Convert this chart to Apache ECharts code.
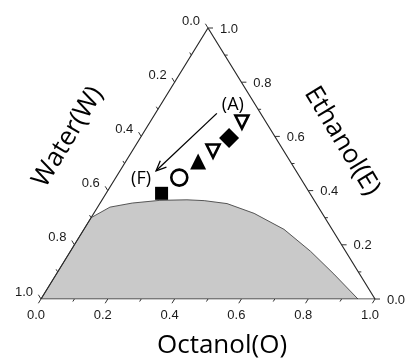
<!DOCTYPE html>
<html>
<head>
<meta charset="utf-8">
<script src="https://cdn.jsdelivr.net/npm/echarts@6/dist/echarts.min.js"></script>
<style>
  html, body { margin: 0; padding: 0; background: #fff; }
  #chart { width: 408px; height: 360px; }
</style>
</head>
<body>
<div id="chart"></div>
<script>
// Ternary phase diagram of water / ethanol / octanol.
// Every composition is given as (octanol, ethanol) fractions; water is the rest.

// Binodal curve, two-phase region below it
const binodalOctanol = [0.000, 0.000, 0.037, 0.096, 0.174, 0.254, 0.307, 0.381, 0.480, 0.599, 0.719, 0.831, 0.949];
const binodalEthanol = [0.000, 0.300, 0.339, 0.354, 0.364, 0.366, 0.363, 0.352, 0.316, 0.257, 0.176, 0.092, 0.000];

// Mixture compositions, from (F) up to (A)
const pointOctanol = [0.166, 0.190, 0.217, 0.242, 0.266, 0.275];
const pointEthanol = [0.390, 0.448, 0.507, 0.546, 0.594, 0.653];

// Arrow from (A) towards (F)
const arrowNames = ['(A)', '(F)'];
const arrowOctanol = [0.184, 0.108];
const arrowEthanol = [0.685, 0.473];

// Axis ticks (every 0.1, labelled every 0.2)
const tickValues = [0.0, 0.1, 0.2, 0.3, 0.4, 0.5, 0.6, 0.7, 0.8, 0.9, 1.0];
const tickLabels = ['0.0', '', '0.2', '', '0.4', '', '0.6', '', '0.8', '', '1.0'];

// Axis names
const axisNames = { octanol: 'Octanol(O)', water: 'Water(W)', ethanol: 'Ethanol(E)' };

// Ternary (octanol, ethanol) -> cartesian (x, y) of the triangle
function toXY(o, e) {
  return [o + e / 2, e];
}

// Symbol styles for the six mixtures
const pointStyles = [
  { symbol: 'rect', size: 13, rotate: 0, filled: true },
  { symbol: 'circle', size: 16, rotate: 0, filled: false },
  { symbol: 'triangle', size: 16, rotate: 0, filled: true },
  { symbol: 'triangle', size: 13, rotate: 180, filled: false },
  { symbol: 'diamond', size: 20, rotate: 0, filled: true },
  { symbol: 'triangle', size: 13, rotate: 180, filled: false }
];

const TICK_FONT = '13px "Liberation Sans", Arial, sans-serif';
const TITLE_FONT = '26px "Open Sans", "Noto Sans", sans-serif';
const MARK_FONT = '18px "Open Sans", "Noto Sans", sans-serif';

// One side of the triangle: where a value sits, which way its ticks point,
// and where its label goes relative to the tick
const sides = {
  octanol: { pos: v => toXY(v, 0), dir: [-0.5, -1], label: [-5, 16] },
  water:   { pos: v => toXY(0, 1 - v), dir: [-0.5, 1], label: [-17, -7] },
  ethanol: { pos: v => toXY(1 - v, v), dir: [1, 0], label: [21, 1] }
};

function axisSeries(name) {
  const side = sides[name];
  return {
    type: 'custom',
    coordinateSystem: 'cartesian2d',
    silent: true,
    z: 5,
    data: tickValues.map((v, i) => {
      const xy = side.pos(v);
      return [xy[0], xy[1], i];
    }),
    renderItem: function (params, api) {
      const i = api.value(2);
      const p0 = api.coord([api.value(0), api.value(1)]);
      const q = api.coord([api.value(0) + side.dir[0] * 0.1, api.value(1) + side.dir[1] * 0.1]);
      let dx = q[0] - p0[0], dy = q[1] - p0[1];
      const len = Math.sqrt(dx * dx + dy * dy);
      const major = tickLabels[i] !== '';
      const tl = major ? 5 : 3;
      dx = dx / len * tl; dy = dy / len * tl;
      const children = [{
        type: 'line',
        shape: { x1: p0[0], y1: p0[1], x2: p0[0] + dx, y2: p0[1] + dy },
        style: { stroke: '#333', lineWidth: 1 }
      }];
      if (major) {
        children.push({
          type: 'text',
          style: {
            text: tickLabels[i],
            x: p0[0] + side.label[0],
            y: p0[1] + side.label[1],
            align: 'center',
            verticalAlign: 'middle',
            font: TICK_FONT,
            fill: '#1a1a1a'
          }
        });
      }
      return { type: 'group', children: children };
    }
  };
}

const chart = echarts.init(document.getElementById('chart'), null, { renderer: 'canvas' });

const option = {
  animation: false,
  backgroundColor: '#fff',
  grid: { left: 41, right: 33, top: 28, bottom: 61 },
  xAxis: { type: 'value', min: 0, max: 1, show: false },
  yAxis: { type: 'value', min: 0, max: 1, show: false },
  graphic: [
    {
      type: 'text', x: 222, y: 346,
      style: { text: axisNames.octanol, font: TITLE_FONT, fill: '#000', align: 'center', verticalAlign: 'middle' }
    },
    {
      type: 'text', x: 68, y: 137, rotation: 1.026,
      style: { text: axisNames.water, font: TITLE_FONT, fill: '#000', align: 'center', verticalAlign: 'middle' }
    },
    {
      type: 'text', x: 342, y: 141, rotation: -1.026,
      style: { text: axisNames.ethanol, font: TITLE_FONT, fill: '#000', align: 'center', verticalAlign: 'middle' }
    }
  ],
  series: [
    // two-phase region
    {
      type: 'line',
      data: binodalOctanol.map((o, i) => toXY(o, binodalEthanol[i])),
      symbol: 'none',
      smooth: false,
      lineStyle: { color: '#555', width: 1 },
      areaStyle: { color: '#c9c9c9', opacity: 1 },
      z: 1
    },
    // triangle frame
    {
      type: 'line',
      data: [toXY(0, 0), toXY(0, 1), toXY(1, 0), toXY(0, 0)],
      symbol: 'none',
      lineStyle: { color: '#2a2a2a', width: 1.2 },
      z: 3
    },
    axisSeries('octanol'),
    axisSeries('water'),
    axisSeries('ethanol'),
    // arrow from (A) to (F)
    {
      type: 'custom',
      coordinateSystem: 'cartesian2d',
      silent: true,
      z: 6,
      data: [[...toXY(arrowOctanol[0], arrowEthanol[0]), ...toXY(arrowOctanol[1], arrowEthanol[1])]],
      renderItem: function (params, api) {
        const a = api.coord([api.value(0), api.value(1)]);
        const b = api.coord([api.value(2), api.value(3)]);
        const ang = Math.atan2(a[1] - b[1], a[0] - b[0]);
        const head = 11, spread = 0.42;
        const h1 = [b[0] + head * Math.cos(ang + spread), b[1] + head * Math.sin(ang + spread)];
        const h2 = [b[0] + head * Math.cos(ang - spread), b[1] + head * Math.sin(ang - spread)];
        const stroke = { stroke: '#000', lineWidth: 1.3, fill: null };
        return {
          type: 'group',
          children: [
            { type: 'line', shape: { x1: a[0], y1: a[1], x2: b[0], y2: b[1] }, style: stroke },
            { type: 'polyline', shape: { points: [h1, b, h2] }, style: stroke },
            {
              type: 'text',
              style: { text: arrowNames[0], x: a[0] + 16, y: a[1] - 8, align: 'center', verticalAlign: 'middle',
                       font: MARK_FONT, fill: '#000' }
            },
            {
              type: 'text',
              style: { text: arrowNames[1], x: b[0] - 15, y: b[1] + 8, align: 'center', verticalAlign: 'middle',
                       font: MARK_FONT, fill: '#000' }
            }
          ]
        };
      }
    },
    // mixtures
    {
      type: 'scatter',
      z: 7,
      data: pointOctanol.map((o, i) => {
        const s = pointStyles[i];
        return {
          value: toXY(o, pointEthanol[i]),
          symbol: s.symbol,
          symbolSize: s.size,
          symbolRotate: s.rotate,
          itemStyle: s.filled
            ? { color: '#000', borderWidth: 0, opacity: 1 }
            : { color: '#fff', borderColor: '#000', borderWidth: 2.6, opacity: 1 }
        };
      })
    }
  ]
};

chart.setOption(option);
</script>
</body>
</html>
